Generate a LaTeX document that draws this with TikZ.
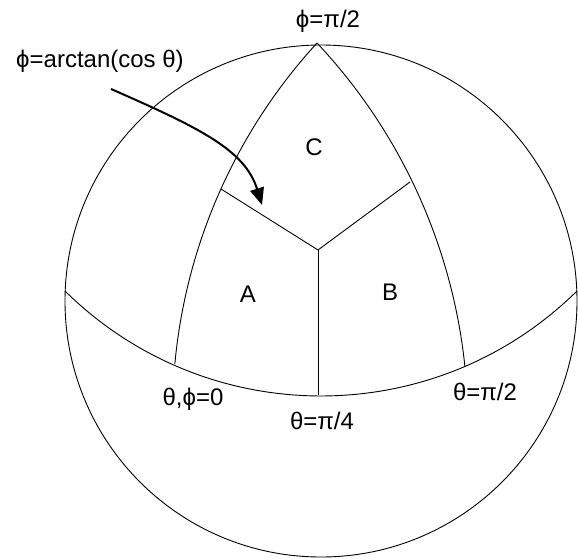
\documentclass[tikz,border=0pt]{standalone}
\usepackage{fontspec}
\setmainfont{Liberation Sans}
\usepackage{tikz}
\usetikzlibrary{arrows.meta,calc}
\tikzset{
  sphline/.style={draw=black,line width=0.9pt},
  ridge/.style={draw=black,line width=0.9pt},
  bigarrow/.style={-{Triangle[length=17pt,width=14pt]},draw=black,line width=2pt},
  lbl/.style={font=\fontsize{24}{26}\selectfont,inner sep=0pt}
}

\begin{document}
\begin{tikzpicture}[x=1pt,y=-1pt]
\useasboundingbox (0,0) rectangle (578,559);
\coordinate (ctr) at (321,301);
\coordinate (pole) at (317,43);
\coordinate (eqL) at (65,291);
\coordinate (mid) at (318,250);
\coordinate (foot) at (318,395);
\coordinate (rL) at (221,189);
\coordinate (rR) at (410,182);
\coordinate (arrS) at (111,89);
\coordinate (arrE) at (262,205);
% sphere outline
\draw[sphline] (ctr) circle[radius=256];
% equator
\draw[sphline] (eqL) arc[start angle=134.6,end angle=45.4,radius=364.6];
% meridians
\draw[sphline] (pole) arc[start angle=222.5,end angle=185.3,radius=550];
\draw[sphline] (pole) arc[start angle=-43.2,end angle=-5.9,radius=556.8];
% region borders
\draw[ridge] (rL) -- (mid) -- (rR);
\draw[ridge] (mid) -- (foot);
\draw[bigarrow] (arrS) .. controls (200,128) and (245,150) .. (arrE);
% labels
\node[lbl] (lpole) at (328,21) {ϕ=π/2};
\node[lbl] (lcurve) at (100,61) {ϕ=arctan(cos θ)};
\node[lbl] (lC) at (314,147) {C};
\node[lbl] (lA) at (248,294) {A};
\node[lbl] (lB) at (390,292) {B};
\node[lbl] (lzero) at (193,399) {θ,ϕ=0};
\node[lbl] (lquart) at (322,421) {θ=π/4};
\node[lbl] (lhalf) at (485,392) {θ=π/2};
\end{tikzpicture}
\end{document}
